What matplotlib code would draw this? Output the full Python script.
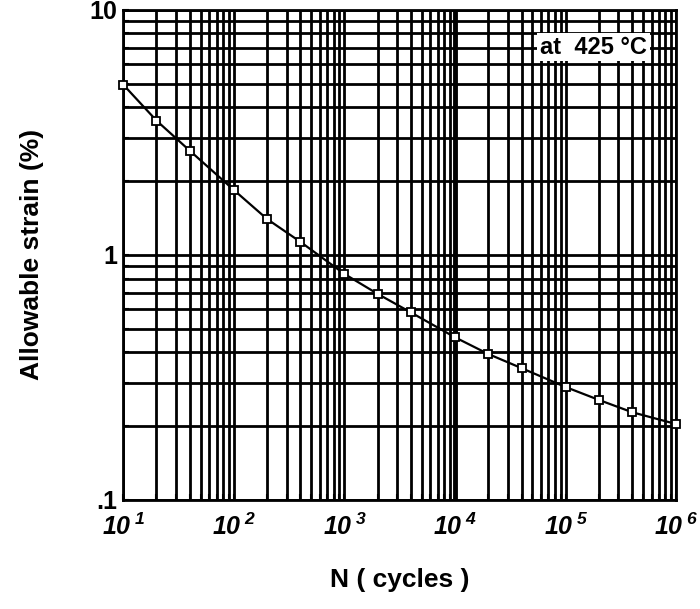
import matplotlib.pyplot as plt
from matplotlib.ticker import FixedLocator, LogLocator, NullFormatter

# data
cycles = [10, 20, 40, 100, 200, 400, 1000, 2000, 4000, 10000,
          20000, 40000, 100000, 200000, 400000, 1000000]
strain = [4.95, 3.53, 2.66, 1.84, 1.40, 1.13, 0.836, 0.693, 0.582, 0.461,
          0.394, 0.345, 0.289, 0.256, 0.228, 0.204]
x_ticks = [10, 100, 1000, 10000, 100000, 1000000]
x_tick_labels = ['$\\mathbf{10\\,^{1}}$', '$\\mathbf{10\\,^{2}}$', '$\\mathbf{10\\,^{3}}$',
                 '$\\mathbf{10\\,^{4}}$', '$\\mathbf{10\\,^{5}}$', '$\\mathbf{10\\,^{6}}$']
y_ticks = [0.1, 1, 10]
y_tick_labels = ['.1', '1', '10']

plt.rcParams['font.family'] = ['Liberation Sans', 'DejaVu Sans']
plt.rcParams['mathtext.fontset'] = 'custom'
plt.rcParams['mathtext.bf'] = 'Liberation Sans:bold:italic'

fig = plt.figure(figsize=(7, 6.09), dpi=100)
ax = fig.add_axes([0.176, 0.179, 0.79, 0.805])

ax.set_xscale('log')
ax.set_yscale('log')
ax.set_xlim(10, 1e6)
ax.set_ylim(0.1, 10)

# dense log grid
ax.xaxis.set_minor_locator(LogLocator(base=10, subs=range(2, 10)))
ax.yaxis.set_minor_locator(LogLocator(base=10, subs=range(2, 10)))
ax.xaxis.set_minor_formatter(NullFormatter())
ax.yaxis.set_minor_formatter(NullFormatter())
ax.grid(True, which='both', color='black', linewidth=2)
ax.axvline(10000, color='black', linewidth=3.5, zorder=1)

ax.xaxis.set_major_locator(FixedLocator(x_ticks))
ax.set_xticklabels(x_tick_labels, fontsize=18)
ax.yaxis.set_major_locator(FixedLocator(y_ticks))
ax.set_yticklabels(y_tick_labels, fontsize=18, fontweight='bold')
ax.tick_params(which='both', direction='in', length=4, width=1.5)
ax.tick_params(axis='x', pad=10)
ax.tick_params(axis='y', pad=4)

for s in ax.spines.values():
    s.set_linewidth(2)

ax.plot(cycles, strain, color='black', linewidth=1.6, marker='s',
        markersize=6, markerfacecolor='white', markeredgecolor='black',
        markeredgewidth=1.3, zorder=5, clip_on=False)

ax.text(0.947, 0.924, 'at  425 °C', transform=ax.transAxes, fontsize=17,
        fontweight='bold', ha='right', va='center',
        bbox=dict(facecolor='white', edgecolor='none', pad=2), zorder=6)

ax.set_xlabel('N ( cycles )', fontsize=19, fontweight='bold', labelpad=20)
ax.set_ylabel('Allowable strain (%)', fontsize=19, fontweight='bold', labelpad=33)

plt.savefig('out.png')
